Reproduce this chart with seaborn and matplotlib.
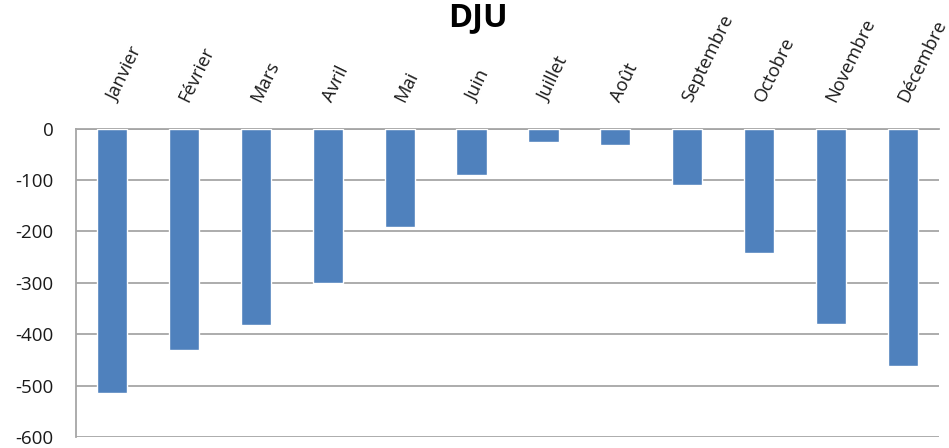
import matplotlib
matplotlib.use("Agg")
import matplotlib.pyplot as plt
import seaborn as sns
import pandas as pd

months = ["Janvier", "Février", "Mars", "Avril", "Mai", "Juin", "Juillet",
          "Août", "Septembre", "Octobre", "Novembre", "Décembre"]
dju = [-514, -430, -383, -300, -191, -90, -26, -32, -110, -242, -380, -461]
yticks = [0, -100, -200, -300, -400, -500, -600]

df = pd.DataFrame({"mois": months, "dju": dju})

sns.set_theme(style="white")
plt.rcParams["font.family"] = ["Open Sans", "DejaVu Sans"]

fig = plt.figure(figsize=(9.49, 4.48), dpi=100)
ax = fig.add_axes([76 / 949, 1 - 437 / 448, (939 - 76) / 949, (437 - 128.5) / 448])

sns.barplot(data=df, x="mois", y="dju", color="#4F81BD", saturation=1,
            width=0.42, ax=ax, zorder=3)

grid_c = "#A6A6A6"
ax.set_ylim(-600, 0)
ax.set_xlim(-0.5, 11.5)
ax.set_yticks(yticks)
ax.set_yticklabels([str(v) for v in yticks], fontsize=13.5, color="#1a1a1a")
for v in yticks:
    ax.axhline(v, color=grid_c, lw=1.3, zorder=1)
ax.tick_params(axis="y", length=0, pad=16, left=False)

ax.xaxis.tick_top()
ax.tick_params(axis="x", length=0, pad=20, top=False, bottom=False)
ax.set_xticks(range(len(months)))
ax.set_xticklabels(months, rotation=64, ha="left", va="center",
                   rotation_mode="anchor", fontsize=13.2, color="#1a1a1a")

for s in ["right", "bottom"]:
    ax.spines[s].set_visible(False)
for s in ["left", "top"]:
    ax.spines[s].set_color(grid_c)
    ax.spines[s].set_linewidth(1.3)

ax.set_xlabel("")
ax.set_ylabel("")
fig.text(478 / 949, 1 - 26 / 448, "DJU", ha="center", va="baseline", fontsize=23.5,
         fontweight="bold", color="#000000")

fig.savefig("out.png", dpi=100)
